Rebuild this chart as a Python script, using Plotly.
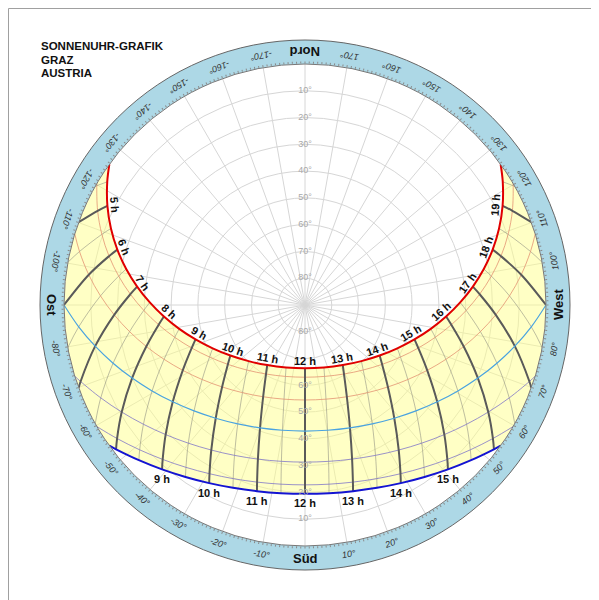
import math
import plotly.graph_objects as go

# ---------------- data (apparent solar time, azimuth from south, + = west) ----------------
HOURS = list(range(5, 20))
HALF_HOURS = [4.5, 5.5, 6.5, 7.5, 8.5, 9.5, 10.5, 11.5, 12.5, 13.5, 14.5, 15.5, 16.5, 17.5, 18.5, 19.5]

# 21 June
SUM_HR = [4.15, 4.5, 5, 5.5, 6, 6.5, 7, 7.5, 8, 8.5, 9, 9.5, 10, 10.5, 11, 11.5, 12,
          12.5, 13, 13.5, 14, 14.5, 15, 15.5, 16, 16.5, 17, 17.5, 18, 18.5, 19, 19.5, 19.85]
SUM_AZ = [-125.73, -121.92, -116.65, -111.52, -106.45, -101.39, -96.25, -90.94, -85.33, -79.26,
          -72.54, -64.87, -55.88, -45.11, -32.14, -16.86, 0,
          16.86, 32.14, 45.11, 55.88, 64.87, 72.54, 79.26, 85.33, 90.94, 96.25, 101.39, 106.45,
          111.52, 116.65, 121.92, 125.73]
SUM_EL = [0, 2.99, 7.44, 12.10, 16.93, 21.89, 26.94, 32.03, 37.13, 42.20, 47.15, 51.92, 56.34,
          60.29, 63.49, 65.61, 66.37,
          65.61, 63.49, 60.29, 56.34, 51.92, 47.15, 42.20, 37.13, 32.03, 26.94, 21.89, 16.93,
          12.10, 7.44, 2.99, 0]

# 21 May / 21 July
MAY_HR = [4.45, 4.5, 5, 5.5, 6, 6.5, 7, 7.5, 8, 8.5, 9, 9.5, 10, 10.5, 11, 11.5, 12,
          12.5, 13, 13.5, 14, 14.5, 15, 15.5, 16, 16.5, 17, 17.5, 18, 18.5, 19, 19.5, 19.55]
MAY_AZ = [-120.30, -119.81, -114.43, -109.18, -104.00, -98.81, -93.54, -88.08, -82.32, -76.09,
          -69.21, -61.41, -52.41, -41.85, -29.47, -15.31, 0,
          15.31, 29.47, 41.85, 52.41, 61.41, 69.21, 76.09, 82.32, 88.08, 93.54, 98.81, 104.00,
          109.18, 114.43, 119.81, 120.30]
MAY_EL = [0, 0.39, 4.94, 9.68, 14.57, 19.58, 24.66, 29.76, 34.85, 39.87, 44.74, 49.39, 53.66,
          57.41, 60.40, 62.35, 63.03,
          62.35, 60.40, 57.41, 53.66, 49.39, 44.74, 39.87, 34.85, 29.76, 24.66, 19.58, 14.57,
          9.68, 4.94, 0.39, 0]

# 20 April / 22 August
APR_HR = [5.15, 5.5, 6, 6.5, 7, 7.5, 8, 8.5, 9, 9.5, 10, 10.5, 11, 11.5, 12,
          12.5, 13, 13.5, 14, 14.5, 15, 15.5, 16, 16.5, 17, 17.5, 18, 18.5, 18.85]
APR_AZ = [-107.17, -103.35, -97.96, -92.55, -87.05, -81.36, -75.36, -68.91, -61.88, -54.07,
          -45.33, -35.49, -24.52, -12.56, 0,
          12.56, 24.52, 35.49, 45.33, 54.07, 61.88, 68.91, 75.36, 81.36, 87.05, 92.55, 97.96,
          103.35, 107.17]
APR_EL = [0, 3.45, 8.46, 13.55, 18.66, 23.74, 28.74, 33.60, 38.24, 42.57, 46.47, 49.79, 52.34,
          53.97, 54.53,
          53.97, 52.34, 49.79, 46.47, 42.57, 38.24, 33.60, 28.74, 23.74, 18.66, 13.55, 8.46,
          3.45, 0]

# 21 March / 23 September
EQU_HR = [6, 6.5, 7, 7.5, 8, 8.5, 9, 9.5, 10, 10.5, 11, 11.5, 12,
          12.5, 13, 13.5, 14, 14.5, 15, 15.5, 16, 16.5, 17, 17.5, 18]
EQU_AZ = [-90, -84.49, -78.90, -73.13, -67.08, -60.67, -53.79, -46.34, -38.26, -29.50, -20.10,
          -10.19, 0,
          10.19, 20.10, 29.50, 38.26, 46.34, 53.79, 60.67, 67.08, 73.13, 78.90, 84.49, 90]
EQU_EL = [0, 5.10, 10.15, 15.11, 19.91, 24.50, 28.79, 32.71, 36.15, 38.99, 41.14, 42.48, 42.93,
          42.48, 41.14, 38.99, 36.15, 32.71, 28.79, 24.50, 19.91, 15.11, 10.15, 5.10, 0]

# 20 February / 23 October
FEB_HR = [6.85, 7, 7.5, 8, 8.5, 9, 9.5, 10, 10.5, 11, 11.5, 12,
          12.5, 13, 13.5, 14, 14.5, 15, 15.5, 16, 16.5, 17, 17.15]
FEB_AZ = [-72.83, -71.18, -65.55, -59.71, -53.57, -47.08, -40.19, -32.87, -25.12, -16.99, -8.58, 0,
          8.58, 16.99, 25.12, 32.87, 40.19, 47.08, 53.57, 59.71, 65.55, 71.18, 72.83]
FEB_EL = [0, 1.46, 6.21, 10.74, 15.01, 18.94, 22.46, 25.51, 27.98, 29.82, 30.95, 31.33,
          30.95, 29.82, 27.98, 25.51, 22.46, 18.94, 15.01, 10.74, 6.21, 1.46, 0]

# 21 January / 22 November
JAN_HR = [7.54, 8, 8.5, 9, 9.5, 10, 10.5, 11, 11.5, 12,
          12.5, 13, 13.5, 14, 14.5, 15, 15.5, 16, 16.46]
JAN_AZ = [-59.70, -54.61, -48.78, -42.67, -36.25, -29.51, -22.46, -15.14, -7.62, 0,
          7.62, 15.14, 22.46, 29.51, 36.25, 42.67, 48.78, 54.61, 59.70]
JAN_EL = [0, 3.91, 7.92, 11.58, 14.82, 17.60, 19.83, 21.48, 22.49, 22.83,
          22.49, 21.48, 19.83, 17.60, 14.82, 11.58, 7.92, 3.91, 0]

# 21 December
DEC_HR = [7.85, 8, 8.5, 9, 9.5, 10, 10.5, 11, 11.5, 12,
          12.5, 13, 13.5, 14, 14.5, 15, 15.5, 16, 16.15]
DEC_AZ = [-54.27, -52.63, -46.96, -41.01, -34.80, -28.28, -21.50, -14.48, -7.28, 0,
          7.28, 14.48, 21.50, 28.28, 34.80, 41.01, 46.96, 52.63, 54.27]
DEC_EL = [0, 1.22, 5.12, 8.66, 11.80, 14.47, 16.63, 18.20, 19.17, 19.49,
          19.17, 18.20, 16.63, 14.47, 11.80, 8.66, 5.12, 1.22, 0]

# where hour / half-hour lines meet the horizon
HORIZON_HR = [4.5, 5, 5.5, 6.5, 7, 7.5, 16.5, 17, 17.5, 18.5, 19, 19.5]
HORIZON_AZ = [-119.50, -110.10, -100.19, -79.81, -69.90, -60.50,
              60.50, 69.90, 79.81, 100.19, 110.10, 119.50]

WINTER_LABEL_HOURS = [9, 10, 11, 12, 13, 14, 15]
ELEV_TICKS_N = [10, 20, 30, 40, 50, 60, 70, 80]
ELEV_TICKS_S = [10, 20, 30, 40, 50, 60, 80]
AZ_TICKS = list(range(-170, 190, 10))
CARDINAL = {0: "Süd", 90: "West", 180: "Nord", -90: "Ost"}
TITLE_LINES = ["SONNENUHR-GRAFIK", "GRAZ", "AUSTRIA"]

# ---------------- geometry (figure pixels) ----------------
W, H = 591, 592
CX, CY, R = 297, 297, 241
R_RING = 265
R_LABEL = 253
FONT = "Liberation Sans, Arial, sans-serif"


def zen(els):
    return [90 - e for e in els]


def px(az, el=None, rpx=None):
    if rpx is None:
        rpx = (90 - el) / 90 * R
    th = math.radians(-90 + az)
    return CX + rpx * math.cos(th), CY - rpx * math.sin(th)


def paper(x, y):
    return x / W, 1 - y / H


fig = go.Figure()

DATES = [
    (SUM_HR, SUM_AZ, SUM_EL),
    (MAY_HR, MAY_AZ, MAY_EL),
    (APR_HR, APR_AZ, APR_EL),
    (EQU_HR, EQU_AZ, EQU_EL),
    (FEB_HR, FEB_AZ, FEB_EL),
    (JAN_HR, JAN_AZ, JAN_EL),
    (DEC_HR, DEC_AZ, DEC_EL),
]

# yellow area between summer and winter paths
fill_az = list(SUM_AZ)
fill_el = list(SUM_EL)
for hr, az, el in DATES[1:-1]:
    fill_az.append(az[-1]); fill_el.append(el[-1])
fill_az += DEC_AZ[::-1]
fill_el += DEC_EL[::-1]
for hr, az, el in DATES[-2:0:-1]:
    fill_az.append(az[0]); fill_el.append(el[0])
fig.add_trace(go.Scatterpolar(
    r=zen(fill_el), theta=fill_az, mode="lines",
    line=dict(width=0, shape="spline", color="rgba(0,0,0,0)"),
    fill="toself", fillcolor="rgba(255,255,140,0.5)",
    hoverinfo="skip", showlegend=False))


def time_line(h):
    az_l, el_l = [], []
    for hr, az, el in DATES:
        if h in hr:
            i = hr.index(h)
            az_l.append(az[i]); el_l.append(el[i])
    if h in HORIZON_HR:
        az_l.append(HORIZON_AZ[HORIZON_HR.index(h)]); el_l.append(0)
    return az_l, el_l


# half-hour lines (thin)
for h in HALF_HOURS:
    az_l, el_l = time_line(h)
    fig.add_trace(go.Scatterpolar(r=zen(el_l), theta=az_l, mode="lines",
                                  line=dict(color="rgba(110,110,110,0.45)", width=1, shape="spline"),
                                  hoverinfo="skip", showlegend=False))

# thin date curves
thin_styles = [
    (DATES[1], "rgba(225,140,110,0.75)"),
    (DATES[2], "rgba(225,140,110,0.75)"),
    (DATES[4], "rgba(120,110,200,0.75)"),
    (DATES[5], "rgba(120,110,200,0.75)"),
]
for (hr, az, el), col in thin_styles:
    fig.add_trace(go.Scatterpolar(r=zen(el), theta=az, mode="lines",
                                  line=dict(color=col, width=1, shape="spline"),
                                  hoverinfo="skip", showlegend=False))

# hour lines
for h in HOURS:
    az_l, el_l = time_line(h)
    fig.add_trace(go.Scatterpolar(r=zen(el_l), theta=az_l, mode="lines",
                                  line=dict(color="#5a5a5a", width=2, shape="spline"),
                                  hoverinfo="skip", showlegend=False))

# main date curves
fig.add_trace(go.Scatterpolar(r=zen(EQU_EL), theta=EQU_AZ, mode="lines",
                              line=dict(color="#4aa3e0", width=1.2, shape="spline"),
                              hoverinfo="skip", showlegend=False))
fig.add_trace(go.Scatterpolar(r=zen(SUM_EL), theta=SUM_AZ, mode="lines",
                              line=dict(color="#e00000", width=2, shape="spline"),
                              hoverinfo="skip", showlegend=False))
fig.add_trace(go.Scatterpolar(r=zen(DEC_EL), theta=DEC_AZ, mode="lines",
                              line=dict(color="#1414d2", width=2, shape="spline"),
                              hoverinfo="skip", showlegend=False))

# elevation labels along north and south directions
fig.add_trace(go.Scatterpolar(
    r=zen(ELEV_TICKS_N) + zen(ELEV_TICKS_S),
    theta=[180] * len(ELEV_TICKS_N) + [0] * len(ELEV_TICKS_S),
    mode="text", text=[f"{e}°" for e in ELEV_TICKS_N] + [f"{e}°" for e in ELEV_TICKS_S],
    textfont=dict(family=FONT, size=9, color="#a8a8a8"),
    hoverinfo="skip", showlegend=False))

# tick marks every degree (second polar, same domain)
fig.add_trace(go.Scatterpolar(r=[0], theta=[0], mode="markers", marker=dict(opacity=0),
                              subplot="polar2", hoverinfo="skip", showlegend=False))

dom_x = [(CX - R) / W, (CX + R) / W]
dom_y = [(H - CY - R) / H, (H - CY + R) / H]

fig.update_layout(
    width=W, height=H, margin=dict(l=0, r=0, t=0, b=0),
    paper_bgcolor="white", showlegend=False,
    polar=dict(
        domain=dict(x=dom_x, y=dom_y), bgcolor="white",
        radialaxis=dict(range=[0, 90], tickvals=[10, 20, 30, 40, 50, 60, 70, 80],
                        showticklabels=False, showline=False, ticks="",
                        gridcolor="#d6d6d6", gridwidth=1),
        angularaxis=dict(rotation=-90, direction="counterclockwise", dtick=10,
                         showticklabels=False, ticks="", gridcolor="#d6d6d6",
                         showline=True, linecolor="#777", linewidth=1),
    ),
    polar2=dict(
        domain=dict(x=dom_x, y=dom_y), bgcolor="rgba(0,0,0,0)",
        radialaxis=dict(visible=False, range=[0, 90]),
        angularaxis=dict(rotation=-90, direction="counterclockwise", dtick=1,
                         showticklabels=False, showgrid=False, showline=False,
                         ticks="outside", ticklen=2, tickwidth=1, tickcolor="#8a8a8a"),
    ),
)

shapes = [
    dict(type="rect", xref="paper", yref="paper", x0=0.5 / W, x1=1.02, y0=-0.02,
         y1=1 - 0.5 / H, line=dict(color="#a0a0a0", width=1), layer="below"),
    dict(type="circle", xref="paper", yref="paper",
         x0=(CX - R_RING) / W, x1=(CX + R_RING) / W,
         y0=1 - (CY + R_RING) / H, y1=1 - (CY - R_RING) / H,
         fillcolor="#add8e6", line=dict(color="#666", width=1), layer="below"),
]
fig.update_layout(shapes=shapes)

ann = []
# title
for i, t in enumerate(TITLE_LINES):
    x, y = paper(31, 38.5 + 13.3 * i)
    ann.append(dict(x=x, y=y, xref="paper", yref="paper", text=t, showarrow=False,
                    xanchor="left", yanchor="middle",
                    font=dict(family=FONT, size=11.5, color="#111", weight="bold")))

# azimuth ring labels
for a in AZ_TICKS:
    x, y = paper(*px(a, rpx=R_LABEL))
    if a in CARDINAL:
        txt = CARDINAL[a]
        f = dict(family=FONT, size=13, color="#111", weight="bold")
    else:
        txt = f"{a}°"
        f = dict(family=FONT, size=9, color="#333", style="italic")
    ta = -a
    if ta <= -180:
        ta += 360
    ann.append(dict(x=x, y=y, xref="paper", yref="paper", text=txt, showarrow=False,
                    xanchor="center", yanchor="middle", textangle=ta, font=f))

# hour labels on summer path (rotated along curve, inside)
for h in HOURS:
    i = SUM_HR.index(h)
    p0 = px(SUM_AZ[i - 1], SUM_EL[i - 1])
    p1 = px(SUM_AZ[i + 1], SUM_EL[i + 1])
    p = px(SUM_AZ[i], SUM_EL[i])
    dx, dy = p1[0] - p0[0], p1[1] - p0[1]
    ang = math.degrees(math.atan2(dy, dx))
    L = math.hypot(dx, dy)
    nx, ny = -dy / L, dx / L
    if (CX - p[0]) * nx + (CY - p[1]) * ny < 0:
        nx, ny = -nx, -ny
    x, y = paper(p[0] + 7 * nx, p[1] + 7 * ny)
    ann.append(dict(x=x, y=y, xref="paper", yref="paper", text=f"{h} h", showarrow=False,
                    xanchor="center", yanchor="middle", textangle=ang,
                    font=dict(family=FONT, size=11, color="#111", weight="bold")))

# hour labels below winter path
for h in WINTER_LABEL_HOURS:
    i = DEC_HR.index(h)
    p = px(DEC_AZ[i], DEC_EL[i])
    x, y = paper(p[0], p[1] + 9.5)
    ann.append(dict(x=x, y=y, xref="paper", yref="paper", text=f"{h} h", showarrow=False,
                    xanchor="center", yanchor="middle",
                    font=dict(family=FONT, size=11, color="#111", weight="bold")))

fig.update_layout(annotations=ann)
fig.write_html("out.html")
